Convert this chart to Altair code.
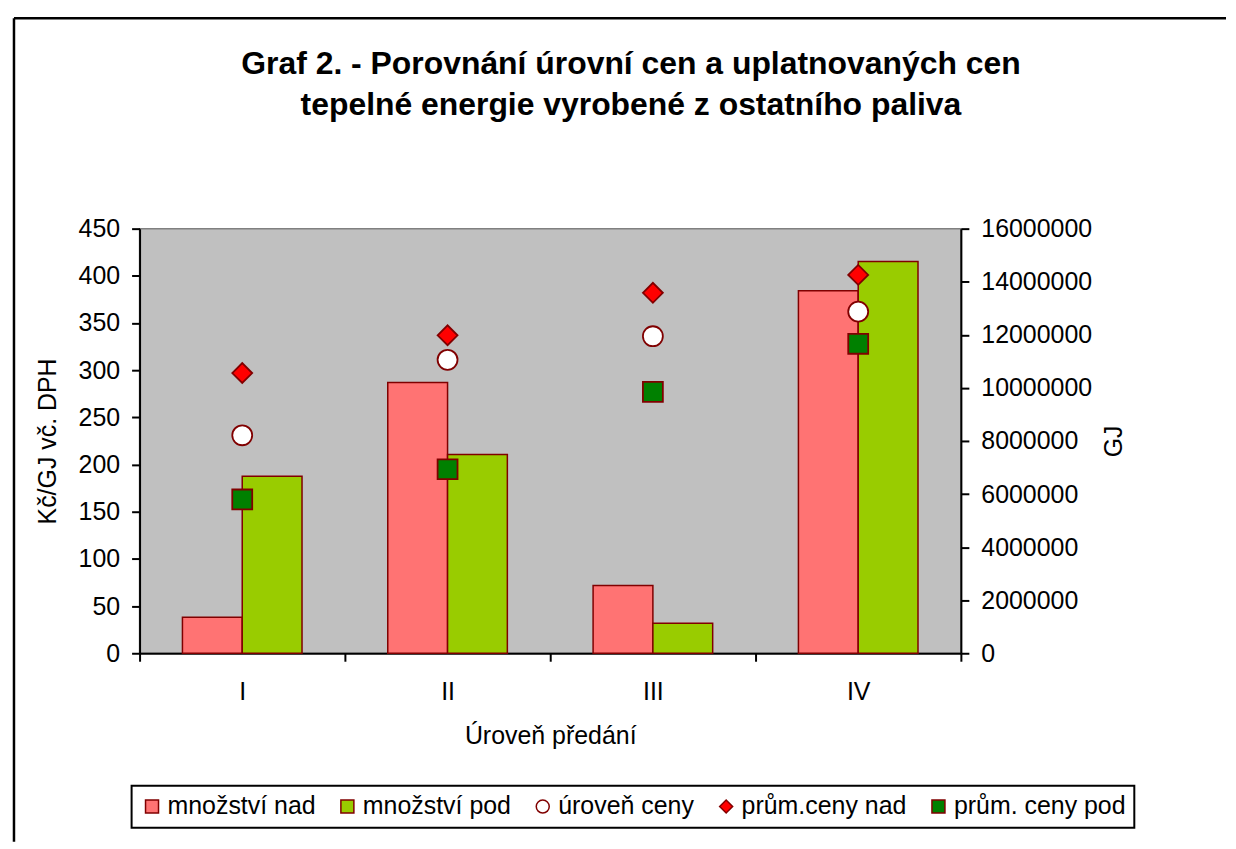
import altair as alt
import pandas as pd

# ---- data ----
levels = ["I", "II", "III", "IV"]
mnozstvi_nad = [1360000, 10200000, 2550000, 13660000]
mnozstvi_pod = [6670000, 7490000, 1130000, 14760000]
uroven_ceny = [231, 311, 336, 362]
prum_ceny_nad = [297, 337, 382, 401]
prum_ceny_pod = [163, 195, 277, 328]

series_names = ["množství nad", "množství pod", "úroveň ceny", "prům.ceny nad", "prům. ceny pod"]
fill_colors = ["#FF7373", "#99CC00", "#FFFFFF", "#FF0000", "#008000"]
shapes = ["square", "square", "circle", "diamond", "square"]

left_ticks = list(range(0, 451, 50))
right_ticks = list(range(0, 16000001, 2000000))

title_lines = ["Graf 2. - Porovnání úrovní cen a uplatnovaných cen",
               "tepelné energie vyrobené z ostatního paliva"]

bars_df = pd.DataFrame({
    "level": levels * 2,
    "series": [series_names[0]] * 4 + [series_names[1]] * 4,
    "gj": mnozstvi_nad + mnozstvi_pod,
})
pts_df = pd.DataFrame({
    "level": levels * 3,
    "series": [series_names[2]] * 4 + [series_names[3]] * 4 + [series_names[4]] * 4,
    "price": uroven_ceny + prum_ceny_nad + prum_ceny_pod,
})
frame_df = pd.DataFrame({"d": [0]})

FONT = "Liberation Sans"
DARK = "#800000"

color_scale = alt.Scale(domain=series_names, range=fill_colors)
shape_scale = alt.Scale(domain=series_names, range=shapes)

legend = alt.Legend(
    title=None, orient="none", legendX=-8, legendY=559, direction="horizontal",
    columns=5, strokeColor="black", fillColor="white", padding=8,
    labelFont=FONT, labelFontSize=25, labelColor="black", labelOffset=3, labelLimit=400,
    symbolSize=170, symbolStrokeColor=DARK, symbolStrokeWidth=1.5, columnPadding=19,
)

x_enc = alt.X(
    "level:N", sort=levels,
    scale=alt.Scale(paddingInner=0, paddingOuter=0),
    axis=alt.Axis(title="Úroveň předání", tickBand="extent", labelAngle=0,
                  labelPadding=18, titlePadding=20),
)

bars = alt.Chart(bars_df).mark_bar(stroke=DARK, strokeWidth=1.5).encode(
    x=x_enc,
    xOffset=alt.XOffset("series:N", sort=series_names[:2],
                        scale=alt.Scale(paddingInner=0, paddingOuter=0.717)),
    y=alt.Y("gj:Q", scale=alt.Scale(domain=[0, 16000000], nice=False),
            axis=alt.Axis(orient="right", values=right_ticks, format="d", title="GJ",
                          titleAngle=270, titleBaseline="top",
                          labelPadding=12, titlePadding=10)),
    color=alt.Color("series:N", scale=color_scale, legend=legend),
)

points = alt.Chart(pts_df).mark_point(
    filled=True, size=400, stroke=DARK, strokeWidth=1.8, opacity=1
).encode(
    x=alt.X("level:N", sort=levels),
    y=alt.Y("price:Q", scale=alt.Scale(domain=[0, 450], nice=False),
            axis=alt.Axis(orient="left", values=left_ticks, title="Kč/GJ vč. DPH",
                          labelPadding=12, titlePadding=18)),
    color=alt.Color("series:N", scale=color_scale, legend=legend),
    shape=alt.Shape("series:N", scale=shape_scale, legend=legend),
)

frame_top = alt.Chart(frame_df).mark_rule(color="black", strokeWidth=2.5).encode(
    x=alt.value(-126), x2=alt.value(1090), y=alt.value(-211)
)
frame_left = alt.Chart(frame_df).mark_rule(color="black", strokeWidth=2.5).encode(
    x=alt.value(-126), y=alt.value(-211), y2=alt.value(615)
)

title = alt.Chart(frame_df).mark_text(
    font=FONT, fontSize=32, fontWeight="bold", color="black",
    align="center", baseline="alphabetic", lineHeight=41,
).encode(
    x=alt.value(493), y=alt.value(-155), text=alt.value(title_lines)
)

chart = alt.layer(frame_top, frame_left, title, bars, points).resolve_scale(
    y="independent"
).properties(
    width=824, height=426,
    padding={"left": 4, "top": 7, "right": 0, "bottom": 0},
    background="white",
).configure_view(
    fill="#C0C0C0", stroke="#808080", strokeWidth=1.5
).configure_axis(
    domainColor="black", domainWidth=2, tickColor="black", tickWidth=2, tickSize=8,
    labelFont=FONT, labelFontSize=25, labelColor="black",
    titleFont=FONT, titleFontSize=25, titleFontWeight="normal", titleColor="black",
    grid=False,
).configure_legend(strokeWidth=2)

chart.save("out.html", embed_options={"renderer": "svg", "actions": False})
